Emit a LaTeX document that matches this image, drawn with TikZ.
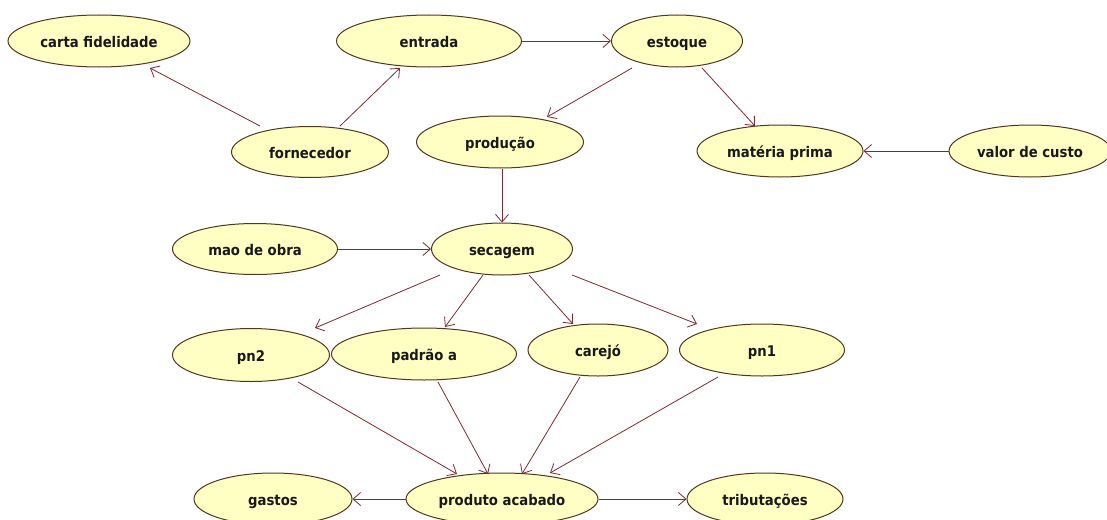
\documentclass[tikz,border=0pt]{standalone}
\usepackage{fontspec}
\setmainfont{DejaVu Sans Condensed}
\usetikzlibrary{arrows.meta,calc,shapes.geometric}
\definecolor{fillY}{RGB}{255,255,196}
\definecolor{edgeB}{RGB}{80,55,30}
\definecolor{arrR}{RGB}{128,40,48}
\definecolor{txtC}{RGB}{25,25,25}
\begin{document}
\begin{tikzpicture}[x=1pt,y=-1pt,
  uc/.style={ellipse, draw=edgeB, line width=1pt, fill=fillY, inner sep=0pt, text=txtC,
    text height=13pt, text depth=0pt,
    font=\bfseries\fontsize{14.7}{17}\selectfont},
  arr/.style={draw=arrR, line width=0.8pt, -{Straight Barb[length=7.5pt,width=13pt]}}]
\fill[white] (0,0) rectangle (1107,519);
\useasboundingbox (0,0) rectangle (1107,519);
\begin{scope}
\clip (0,0) rectangle (1107,519);
\node[uc, minimum width=182pt, minimum height=52pt] (carta) at (99,41) {carta fidelidade};
\node[uc, minimum width=185pt, minimum height=52pt] (entrada) at (429,41) {entrada};
\node[uc, minimum width=131pt, minimum height=52pt] (estoque) at (677,41) {estoque};
\node[uc, minimum width=157pt, minimum height=51pt] (forn) at (310,152) {fornecedor};
\node[uc, minimum width=167pt, minimum height=52pt] (prod) at (500,142) {produção};
\node[uc, minimum width=166pt, minimum height=52pt] (mat) at (780,151) {matéria prima};
\node[uc, minimum width=162pt, minimum height=52pt] (valor) at (1030,151) {valor de custo};
\node[uc, minimum width=165pt, minimum height=51pt] (mao) at (255,249) {mao de obra};
\node[uc, minimum width=141pt, minimum height=52pt] (sec) at (502,249) {secagem};
\node[uc, minimum width=157pt, minimum height=53pt] (pn2) at (251,355) {pn2};
\node[uc, minimum width=185pt, minimum height=52pt] (padrao) at (424,354) {padrão a};
\node[uc, minimum width=140pt, minimum height=52pt] (carejo) at (598,350) {carejó};
\node[uc, minimum width=165pt, minimum height=52pt] (pn1) at (762,350) {pn1};
\node[uc, minimum width=158pt, minimum height=52pt] (gastos) at (273,499) {gastos};
\node[uc, minimum width=192pt, minimum height=52pt] (produto) at (502,499) {produto acabado};
\node[uc, minimum width=156pt, minimum height=52pt] (trib) at (765,499) {tributações};

\draw[arr] ($(forn)+(-50,-26)$) -- ($(carta)+(51,27)$);
\draw[arr] ($(forn)+(30,-26)$) -- ($(entrada)+(-29,27)$);
\draw[arr] (entrada.east) -- (estoque.west);
\draw[arr] ($(estoque)+(-45,27)$) -- ($(prod)+(47,-25)$);
\draw[arr] ($(estoque)+(25,27)$) -- ($(mat)+(-25,-25)$);
\draw[arr] (valor.west) -- (mat.east);
\draw[arr] (sec.north |- prod.south) -- (sec.north);
\draw[arr] (mao.east) -- (mao.east -| sec.west);
\draw[arr] ($(sec)+(-62,26)$) -- ($(pn2)+(64,-27)$);
\draw[arr] ($(sec)+(-19,26)$) -- ($(padrao)+(21,-27)$);
\draw[arr] ($(sec)+(27,26)$) -- ($(carejo)+(-25,-26)$);
\draw[arr] ($(sec)+(70,26)$) -- ($(pn1)+(-65,-26)$);
\draw[arr] ($(pn2)+(47,27)$) -- ($(produto)+(-45,-25)$);
\draw[arr] ($(padrao)+(14,28)$) -- ($(produto)+(-14,-25)$);
\draw[arr] ($(carejo)+(-18,27)$) -- ($(produto)+(20,-25)$);
\draw[arr] ($(pn1)+(-44,27)$) -- ($(produto)+(48,-26)$);
\draw[arr] (produto.west) -- (gastos.east);
\draw[arr] (produto.east) -- (trib.west);
\end{scope}
\end{tikzpicture}
\end{document}
